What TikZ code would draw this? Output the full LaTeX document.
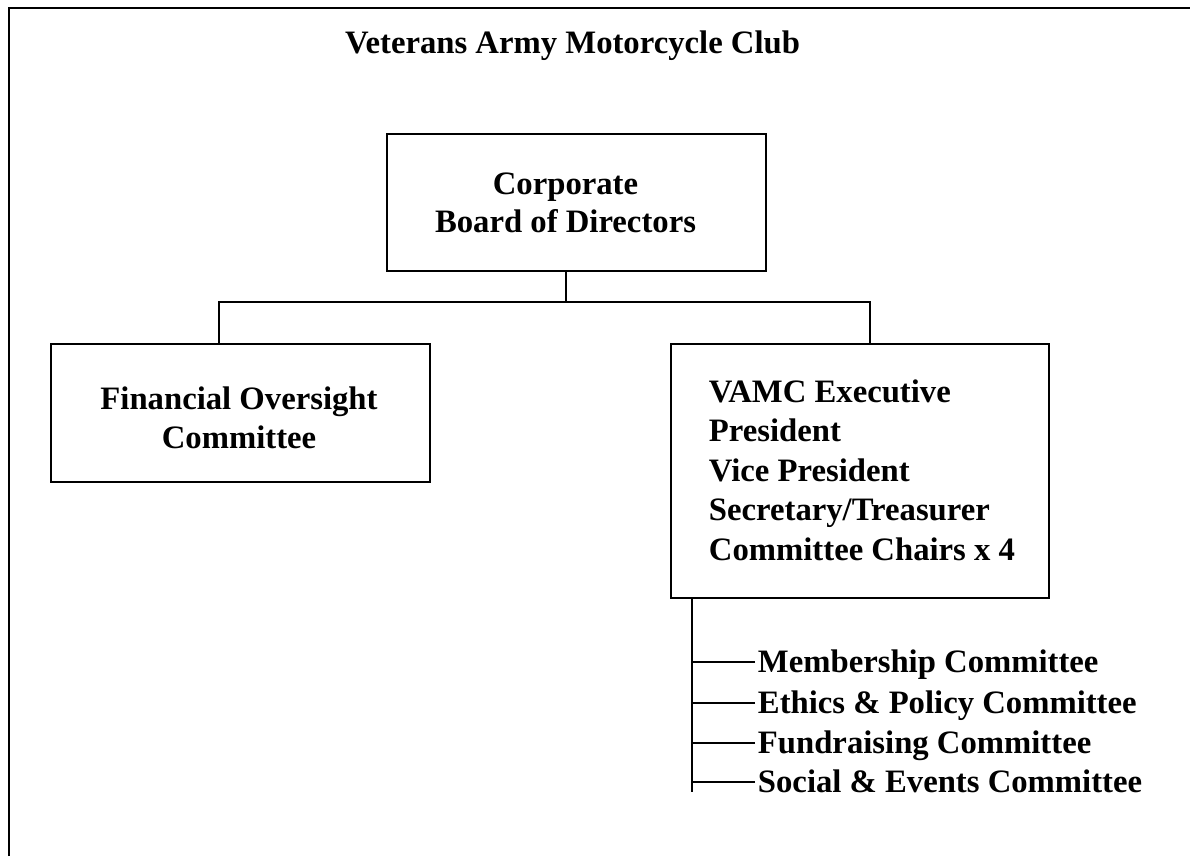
\documentclass[tikz,border=0pt]{standalone}
\usepackage{fontspec}
\setmainfont{Liberation Serif}
\begin{document}
\begin{tikzpicture}[x=1pt,y=-1pt,line width=1.9pt,
  box/.style={draw,rectangle,inner sep=0pt},
  lbl/.style={font=\fontsize{32.7}{39}\selectfont\bfseries,inner sep=0pt,anchor=base},
  lblw/.style={lbl,anchor=base west}]
\useasboundingbox (0,0) rectangle (1190,856);
\draw[line width=2.6pt] (9,856) -- (9,8) -- (1190,8);
% title
\node[lbl] (title) at (572.5,54) {Veterans Army Motorcycle Club};
% boxes
\node[box,minimum width=379pt,minimum height=137pt] (board) at (576.5,202.5) {};
\node[lbl] (b1) at (565.5,194) {Corporate};
\node[lbl] (b2) at (565.5,232) {Board of Directors};
\node[box,minimum width=379pt,minimum height=138pt] (fin) at (240.5,413) {};
\node[lbl] (f1) at (239,409) {Financial Oversight};
\node[lbl] (f2) at (239,448) {Committee};
\node[box,minimum width=378pt,minimum height=254pt] (exec) at (860,471) {};
\node[lblw] (e1) at (708,402) {VAMC Executive};
\node[lblw] (e2) at (708,441.5) {President};
\node[lblw] (e3) at (708,481) {Vice President};
\node[lblw] (e4) at (708,520.5) {Secretary/Treasurer};
\node[lblw] (e5) at (708,560) {Committee Chairs x 4};
% connectors
\coordinate (j) at (566,302);
\coordinate (jl) at (219,302);
\coordinate (jr) at (870,302);
\draw (board.south -| j) -- (j);
\draw (fin.north -| jl) |- (jr) -- (exec.north -| jr);
% committees
\node[lblw] (m1) at (757,672) {Membership Committee};
\node[lblw] (m2) at (757,713) {Ethics \& Policy Committee};
\node[lblw] (m3) at (757,753) {Fundraising Committee};
\node[lblw] (m4) at (757,792) {Social \& Events Committee};
\coordinate (sp) at (692,792);
\draw (exec.south -| sp) -- (sp);
\foreach \m in {m1,m2,m3,m4}
  \draw ([xshift=-2pt,yshift=10pt]\m.base west) -- ++(-63,0);
\end{tikzpicture}
\end{document}
